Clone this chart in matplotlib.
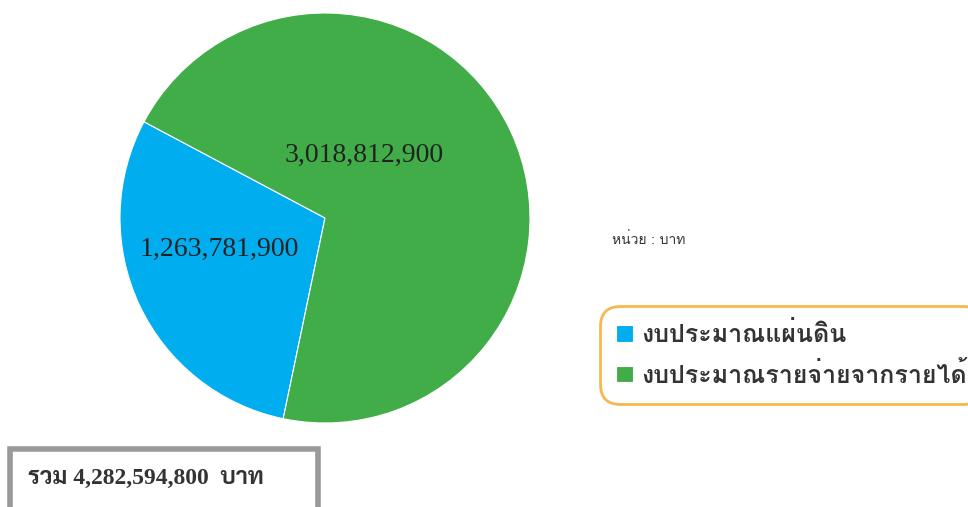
import matplotlib
matplotlib.use("Agg")
import matplotlib.pyplot as plt
from matplotlib.patches import Rectangle

labels = ['งบประมาณแผ่นดิน', 'งบประมาณรายจ่ายจากรายได้']
values = [1263781900, 3018812900]
colors = ['#00AEEF', '#41AD49']
total_text = 'รวม 4,282,594,800  บาท'
unit_text = 'หน่วย : บาท'

W, H = 968, 507
fig = plt.figure(figsize=(W / 100, H / 100), dpi=100)

# pie: centre about (325, 218) px, radius about 205 px
ax = fig.add_axes([120 / W, 1 - 423 / H, 410 / W, 410 / H])
wedges, _ = ax.pie(values, colors=colors, startangle=152, counterclock=True,
                   wedgeprops=dict(edgecolor='white', linewidth=0.8))
ax.set_xlim(-1, 1)
ax.set_ylim(-1, 1)
ax.set_aspect('equal')

ax.text(-0.517, -0.151, f'{values[0]:,}', fontsize=20, family='Liberation Serif',
        color='#222222', ha='center', va='center')
ax.text(0.193, 0.307, f'{values[1]:,}', fontsize=20, family='Liberation Serif',
        color='#222222', ha='center', va='center')

fig.text(612 / W, 1 - 240 / H, unit_text, fontsize=10, family=['Loma', 'DejaVu Sans'],
         color='#333333', va='center')

leg = fig.legend(wedges, labels, loc='upper left', bbox_to_anchor=(600 / W, 1 - 306 / H),
                 borderaxespad=0,
                 prop=dict(family=['Loma', 'DejaVu Sans'], weight='bold', size=18),
                 labelcolor='#333333', handlelength=0.65, handleheight=0.65, handletextpad=0.35,
                 labelspacing=0.58, borderpad=0.65, fancybox=True, frameon=True)
frame = leg.get_frame()
frame.set_edgecolor('#F5A623')
frame.set_linewidth(2)
frame.set_boxstyle('round,pad=0,rounding_size=0.8')

# total box, runs past the bottom edge
fig.patches.append(Rectangle((10 / W, -0.05), 308 / W, 0.05 + (507 - 449) / H,
                             transform=fig.transFigure, fill=False, edgecolor='#999999',
                             linewidth=4, clip_on=False))
fig.text(28 / W, 1 - 478 / H, total_text, fontsize=17, weight='bold',
         family=['Liberation Serif', 'Sarabun'], color='#333333', va='center')

fig.savefig('out.png')
